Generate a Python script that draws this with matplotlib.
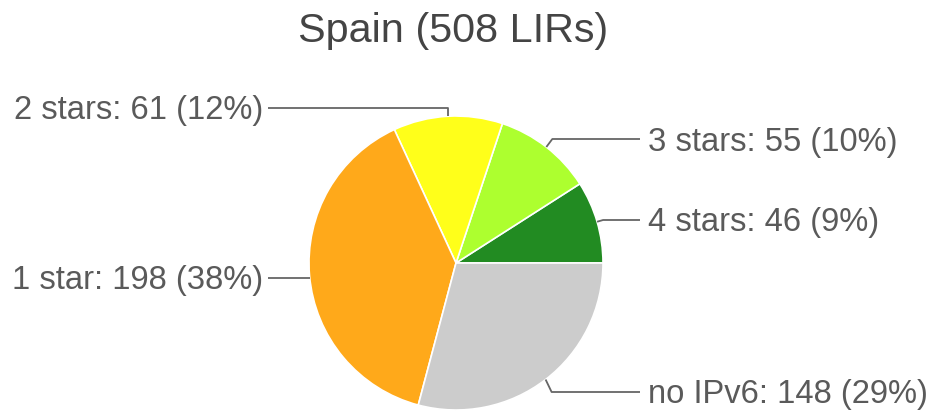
import numpy as np
import matplotlib

matplotlib.use("Agg")
import matplotlib.pyplot as plt  # noqa: E402

TITLE = "Spain (508 LIRs)"
categories = ["4 stars", "3 stars", "2 stars", "1 star", "no IPv6"]
counts = [46, 55, 61, 198, 148]
pct_labels = ["9%", "10%", "12%", "38%", "29%"]
colors = ["#228b22", "#adff2f", "#ffff1a", "#ffa91a", "#cccccc"]

W, H = 933, 413
CX, CY, R = 456, 263, 147
# label layout (pixel rows from top), side: +1 right, -1 left
label_rows = [220, 139, 108, 278, 392]
label_side = [1, 1, -1, -1, 1]

plt.rcParams["font.family"] = ["Liberation Sans", "DejaVu Sans"]

fig = plt.figure(figsize=(W / 100, H / 100), dpi=100)
ax = fig.add_axes([0, 0, 1, 1])

wedges, _ = ax.pie(
    counts, colors=colors, startangle=0, counterclock=True,
    center=(CX, H - CY), radius=R,
    wedgeprops=dict(edgecolor="white", linewidth=1.2),
)
# pie() resets the limits, so put the pixel frame back afterwards
ax.set_xlim(0, W)
ax.set_ylim(0, H)
ax.set_aspect("equal")
ax.axis("off")

line_kw = dict(color="#666666", lw=1.3, solid_capstyle="butt")
for w, cat, n, pct, row, side in zip(wedges, categories, counts, pct_labels,
                                     label_rows, label_side):
    mid = np.deg2rad((w.theta1 + w.theta2) / 2)
    ax_x = CX + R * np.cos(mid)
    ax_y = CY - R * np.sin(mid)
    text = f"{cat}: {n} ({pct})"
    if side > 0:
        end_x = 640
        xs, ys = [ax_x, ax_x + 6, end_x], [ax_y, row, row]
        tx, ha = 648, "left"
    else:
        end_x = 268
        if abs(ax_y - row) > 4:
            xs, ys = [ax_x, ax_x, end_x], [ax_y, row, row]
        else:
            xs, ys = [ax_x, end_x], [row, row]
        tx, ha = 263, "right"
    ax.plot(xs, [H - y for y in ys], **line_kw)
    ax.text(tx, H - row - 3, text, ha=ha, va="center", fontsize=23.6,
            color="#5a5a5a")

ax.text(453, H - 31, TITLE, ha="center", va="center", fontsize=29.8,
        color="#444444")

fig.savefig("out.png", dpi=100)
